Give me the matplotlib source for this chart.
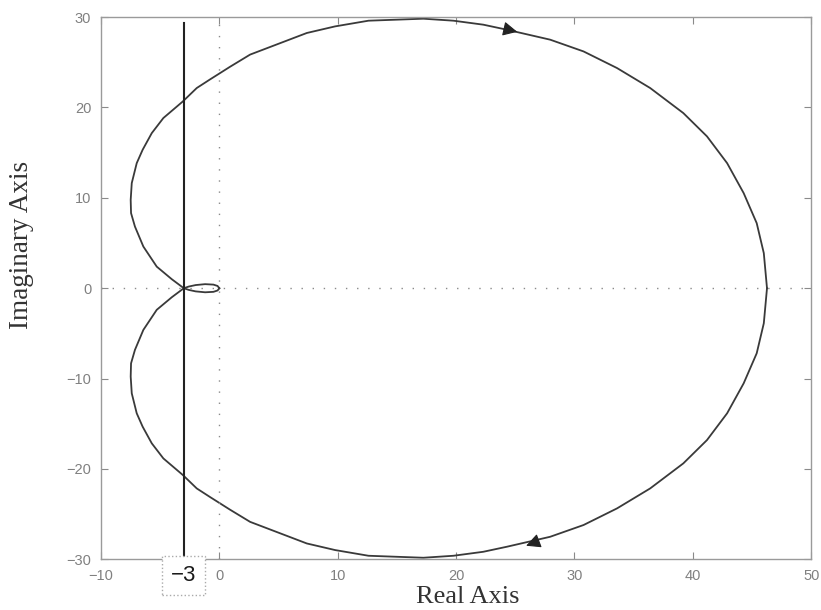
import numpy as np
import matplotlib
matplotlib.use('Agg')
import matplotlib.pyplot as plt

# upper branch of the Nyquist locus (lower branch is its mirror image)
re_up = [0.0, -0.15, -0.5, -1.2, -2.0, -2.6, -3.0,
         -4.02, -5.29, -6.42, -7.13, -7.46, -7.49, -7.40, -6.98, -6.48,
         -5.71, -4.73, -3.09, -1.91, -0.79, 0.9, 2.6, 7.39, 9.78, 12.6,
         17.24, 19.78, 22.3, 24.3, 27.95, 30.77, 33.6, 36.4, 39.2, 41.2,
         42.9, 44.3, 45.4, 46.0, 46.27]
im_up = [0.0, -0.25, -0.4, -0.45, -0.35, -0.18, 0.0,
         1.0, 2.39, 4.61, 6.82, 8.31, 9.78, 11.63, 13.84, 15.32,
         17.16, 18.83, 20.66, 22.15, 23.1, 24.5, 25.85, 28.24, 28.97, 29.6,
         29.82, 29.6, 29.16, 28.6, 27.5, 26.2, 24.36, 22.15, 19.38, 16.8,
         13.84, 10.52, 7.2, 3.88, 0.0]

re_up = np.array(re_up)
im_up = np.array(im_up)

# direction arrows (tail, tip)
arrow_upper = [(23.9, 28.75), (25.4, 28.3)]
arrow_lower = [(27.1, -27.9), (25.7, -28.6)]

# reference line
k_line = -3
k_label = '\u22123'

xticks = [-10, 0, 10, 20, 30, 40, 50]
yticks = [-30, -20, -10, 0, 10, 20, 30]

curve_col = '#3a3a3a'
grey = '#8a8a8a'

fig = plt.figure(figsize=(8.21, 6.10), dpi=100)
ax = fig.add_axes([0.123, 0.083, 0.865, 0.889])

ax.plot(re_up, im_up, color=curve_col, lw=1.3)
ax.plot(re_up, -im_up, color=curve_col, lw=1.3)

for tail, tip in (arrow_upper, arrow_lower):
    ax.annotate('', xy=tip, xytext=tail,
                arrowprops=dict(arrowstyle='-|>', mutation_scale=22,
                                color='#222222', lw=0.8))

# real / imaginary zero lines
ax.axhline(0, color=grey, lw=1.0, ls=(0, (1, 7)))
ax.axvline(0, color=grey, lw=1.0, ls=(0, (1, 7)))

ax.plot([k_line, k_line], [-30, 29.4], color='#222222', lw=1.5)

ax.set_xlim(-10, 50)
ax.set_ylim(-30, 30)
ax.set_xticks(xticks)
ax.set_yticks(yticks)
ax.tick_params(direction='in', length=5, color=grey, labelcolor='#808080',
               labelsize=10.5, top=True, right=True, pad=7)
for lab in ax.get_xticklabels() + ax.get_yticklabels():
    lab.set_family(['Liberation Sans', 'DejaVu Sans'])
for sp in ax.spines.values():
    sp.set_color('#9a9a9a')
    sp.set_linewidth(1.0)

# boxed label for the reference line, drawn over the axis tick labels
ax.text(k_line, -31.75, k_label, ha='center', va='center', fontsize=16,
        family=['Liberation Sans', 'DejaVu Sans'], color='#1a1a1a',
        clip_on=False,
        bbox=dict(boxstyle='square,pad=0.4', fc='white', ec='#aaaaaa',
                  ls=':', lw=1.0))

ax.set_xlabel('Real Axis', family='Liberation Serif', fontsize=19,
              color='#333333')
ax.set_ylabel('Imaginary Axis', family='Liberation Serif', fontsize=19.5,
              color='#333333')
ax.xaxis.set_label_coords((468 - 101) / 710, -0.049)
ax.yaxis.set_label_coords(-0.094, 0.58)

fig.savefig('out.png', dpi=100)
plt.close(fig)
